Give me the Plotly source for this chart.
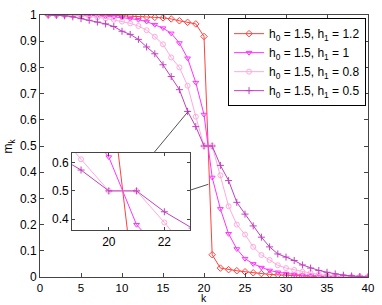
import plotly.graph_objects as go

k = list(range(1, 41))

m_h12 = [1.0, 1.0, 1.0, 1.0, 1.0, 0.999, 0.999, 0.998, 0.998, 0.997,
         0.996, 0.995, 0.993, 0.991, 0.989, 0.985, 0.978, 0.972, 0.966, 0.918,
         0.085, 0.034, 0.028, 0.024, 0.02, 0.016, 0.013, 0.01, 0.008, 0.006,
         0.005, 0.004, 0.003, 0.002, 0.002, 0.001, 0.001, 0.0, 0.0, 0.0]
m_h10 = [1.0, 1.0, 1.0, 1.0, 0.999, 0.998, 0.997, 0.995, 0.993, 0.99,
         0.986, 0.982, 0.975, 0.963, 0.95, 0.93, 0.893, 0.835, 0.742, 0.62,
         0.38, 0.26, 0.165, 0.107, 0.07, 0.05, 0.036, 0.025, 0.018, 0.013,
         0.01, 0.007, 0.005, 0.003, 0.002, 0.001, 0.0, 0.0, 0.0, 0.0]
m_h08 = [1.0, 1.0, 0.999, 0.998, 0.997, 0.995, 0.991, 0.987, 0.982, 0.975,
         0.968, 0.958, 0.942, 0.917, 0.888, 0.838, 0.8, 0.73, 0.612, 0.5,
         0.5, 0.388, 0.27, 0.2, 0.162, 0.115, 0.084, 0.065, 0.045, 0.034,
         0.027, 0.02, 0.015, 0.01, 0.006, 0.004, 0.002, 0.001, 0.0, 0.0]
m_h05 = [1.0, 0.999, 0.997, 0.993, 0.986, 0.98, 0.973, 0.966, 0.956, 0.938,
         0.926, 0.907, 0.878, 0.852, 0.81, 0.765, 0.715, 0.632, 0.574, 0.5,
         0.5, 0.426, 0.368, 0.285, 0.24, 0.195, 0.152, 0.115, 0.088, 0.076,
         0.063, 0.046, 0.034, 0.025, 0.018, 0.012, 0.007, 0.004, 0.002, 0.0]

names = ["h<sub>0</sub> = 1.5, h<sub>1</sub> = 1.2",
         "h<sub>0</sub> = 1.5, h<sub>1</sub> = 1",
         "h<sub>0</sub> = 1.5, h<sub>1</sub> = 0.8",
         "h<sub>0</sub> = 1.5, h<sub>1</sub> = 0.5"]
series = [m_h12, m_h10, m_h08, m_h05]
colors = ["#ff4040", "#ff33ff", "#ffaadd", "#c040c0"]
symbols = ["diamond-open", "triangle-down-open", "circle-open", "cross-thin-open"]
sizes = [5, 5, 5, 5]

x_ticks = [0, 5, 10, 15, 20, 25, 30, 35, 40]
y_ticks = [0, 0.1, 0.2, 0.3, 0.4, 0.5, 0.6, 0.7, 0.8, 0.9, 1]
y_ticktext = ["0", "0.1", "0.2", "0.3", "0.4", "0.5", "0.6", "0.7", "0.8", "0.9", "1"]
inset_xticks = [20, 22]
inset_yticks = [0.4, 0.5, 0.6]

fig = go.Figure()
for name, ys, c, s, sz in zip(names, series, colors, symbols, sizes):
    fig.add_trace(go.Scatter(x=k, y=ys, name=name, mode="lines+markers",
                             line=dict(color=c, width=1),
                             marker=dict(symbol=s, size=sz, color=c,
                                         line=dict(color=c, width=1)),
                             xaxis="x", yaxis="y"))
for name, ys, c, s, sz in zip(names, series, colors, symbols, sizes):
    fig.add_trace(go.Scatter(x=k, y=ys, name=name, mode="lines+markers",
                             showlegend=False,
                             line=dict(color=c, width=1),
                             marker=dict(symbol=s, size=sz, color=c,
                                         line=dict(color=c, width=1)),
                             xaxis="x2", yaxis="y2"))

axcol = "#444444"
fig.update_layout(
    width=382, height=305,
    margin=dict(l=40, r=8, t=14, b=28),
    paper_bgcolor="white", plot_bgcolor="white",
    font=dict(family="Liberation Sans, Arial, sans-serif", size=12, color="black"),
    xaxis=dict(domain=[0, 1], range=[0, 40], tickvals=x_ticks,
               tickfont=dict(size=11.5),
               ticks="inside", ticklen=4, tickcolor=axcol,
               showline=True, linecolor=axcol, mirror="ticks", showgrid=False,
               zeroline=False),
    yaxis=dict(domain=[0, 1], range=[0, 1], tickvals=y_ticks, ticktext=y_ticktext,
               ticks="inside", ticklen=4, tickcolor=axcol,
               showline=True, linecolor=axcol, mirror="ticks", showgrid=False,
               zeroline=False),
    xaxis2=dict(domain=[0.098, 0.457], range=[18.68, 22.92], tickvals=inset_xticks,
                anchor="y2", ticks="inside", ticklen=3, tickcolor=axcol,
                showline=True, linecolor=axcol, mirror="ticks", showgrid=False,
                zeroline=False),
    yaxis2=dict(domain=[0.179, 0.474], range=[0.361, 0.635], tickvals=inset_yticks,
                anchor="x2", ticks="inside", ticklen=3, tickcolor=axcol,
                showline=True, linecolor=axcol, mirror="ticks", showgrid=False,
                zeroline=False),
    legend=dict(x=0.994, y=0.988, xanchor="right", yanchor="top",
                bgcolor="white", bordercolor="black", borderwidth=1,
                font=dict(size=12), tracegroupgap=0, itemwidth=30),
    showlegend=True,
)

fig.add_annotation(text="k", xref="paper", yref="paper", x=0.5, y=-0.106,
                   xanchor="center", yanchor="bottom", showarrow=False,
                   font=dict(size=10.5), borderpad=0)
fig.add_annotation(text="m<sub>k</sub>", xref="paper", yref="paper", x=-0.093, y=0.5,
                   xanchor="center", yanchor="middle", showarrow=False, textangle=-90,
                   font=dict(size=12))

# connector lines from inset to zoomed region
fig.add_shape(type="line", xref="x", yref="y", x0=13.88, y0=0.474, x1=18.15, y1=0.635,
              line=dict(color="#555555", width=1))
fig.add_shape(type="line", xref="x", yref="y", x0=18.27, y0=0.331, x1=20.54, y1=0.354,
              line=dict(color="#555555", width=1))

fig.write_html("out.html", config={"displayModeBar": False},
               post_script="document.body.style.margin='0';document.body.style.padding='0';document.body.style.overflow='hidden';")
